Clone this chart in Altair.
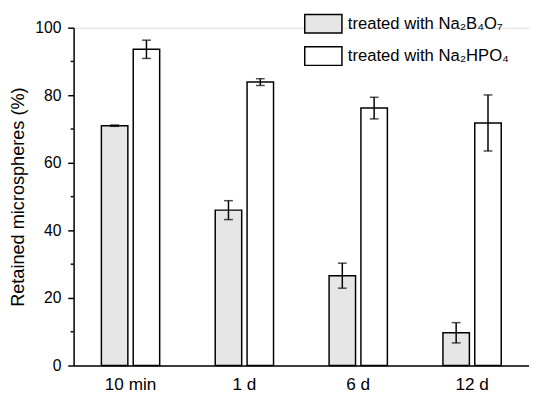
import altair as alt
import pandas as pd

categories = ["10 min", "1 d", "6 d", "12 d"]
series_names = ["treated with Na₂B₄O₇", "treated with Na₂HPO₄"]
borate_vals = [71.0, 46.0, 26.6, 9.7]
borate_err = [0.2, 2.8, 3.7, 3.0]
phosphate_vals = [93.6, 83.9, 76.2, 71.8]
phosphate_err = [2.7, 1.0, 3.2, 8.3]
major_ticks = [0, 20, 40, 60, 80, 100]
minor_ticks = [10, 30, 50, 70, 90]

rows = []
for i, c in enumerate(categories):
    for s, vals, errs in [(series_names[0], borate_vals, borate_err),
                          (series_names[1], phosphate_vals, phosphate_err)]:
        rows.append(dict(cat=c, series=s, value=vals[i],
                         lo=vals[i] - errs[i], hi=vals[i] + errs[i]))
df = pd.DataFrame(rows)

FONT = "Liberation Sans"
YTITLE = "Retained microspheres (%)"

x = alt.X("cat:N", sort=categories, title=None,
          scale=alt.Scale(paddingInner=0.488, paddingOuter=0.244),
          axis=alt.Axis(labelAngle=0, ticks=False, tickSize=0, labelPadding=10,
                        labelFontSize=17.5, labelFont=FONT, labelColor="black",
                        domainColor="black", domainWidth=1.5))
xoff = alt.XOffset("series:N", sort=series_names,
                   scale=alt.Scale(paddingInner=0.169, paddingOuter=0))
yscale = alt.Scale(domain=[0, 100], nice=False)
yaxis = alt.Axis(values=major_ticks, tickSize=6, tickColor="black", tickWidth=1.5,
                 labelPadding=7, labelFontSize=16, labelFont=FONT, labelColor="black",
                 domainColor="black", domainWidth=1.5, grid=False,
                 titleFont=FONT, titleFontSize=18.5, titleFontWeight="normal",
                 titleColor="black", titlePadding=7)

bars = alt.Chart(df).mark_bar(stroke="black", strokeWidth=1.5).encode(
    x=x, xOffset=xoff,
    y=alt.Y("value:Q", scale=yscale, axis=yaxis, title=YTITLE),
    fill=alt.Fill("series:N", sort=series_names,
                  scale=alt.Scale(domain=series_names, range=["#e6e6e6", "#ffffff"]),
                  legend=alt.Legend(title=None, orient="none", legendX=235, legendY=-24,
                                    symbolType="M-1,-0.5H1V0.5H-1Z", symbolSize=1444,
                                    symbolStrokeColor="black", symbolStrokeWidth=1.5,
                                    symbolOpacity=1,
                                    labelFontSize=17, labelFont=FONT, labelColor="black",
                                    labelOffset=5, rowPadding=-11, padding=0, labelLimit=300)),
)

rules = alt.Chart(df).mark_rule(color="black", strokeWidth=1.5).encode(
    x=x, xOffset=xoff,
    y=alt.Y("lo:Q", scale=yscale, title=YTITLE), y2="hi:Q")
cap_lo = alt.Chart(df).mark_tick(color="black", size=9, thickness=1.5).encode(
    x=x, xOffset=xoff, y=alt.Y("lo:Q", scale=yscale, title=YTITLE))
cap_hi = alt.Chart(df).mark_tick(color="black", size=9, thickness=1.5).encode(
    x=x, xOffset=xoff, y=alt.Y("hi:Q", scale=yscale, title=YTITLE))

minor = alt.Chart(pd.DataFrame({"v": minor_ticks})).mark_rule(
    color="black", strokeWidth=1.5, clip=False).encode(
    y=alt.Y("v:Q", scale=yscale, title=YTITLE), x=alt.value(-3), x2=alt.value(0))

chart = alt.layer(bars, rules, cap_lo, cap_hi, minor).properties(
    width=465, height=345, autosize="none",
    padding={"left": 67, "top": 16, "right": 0, "bottom": 27},
).configure_view(stroke=None).configure(background="white")

chart.save("out.html", embed_options={"renderer": "svg", "actions": False})
